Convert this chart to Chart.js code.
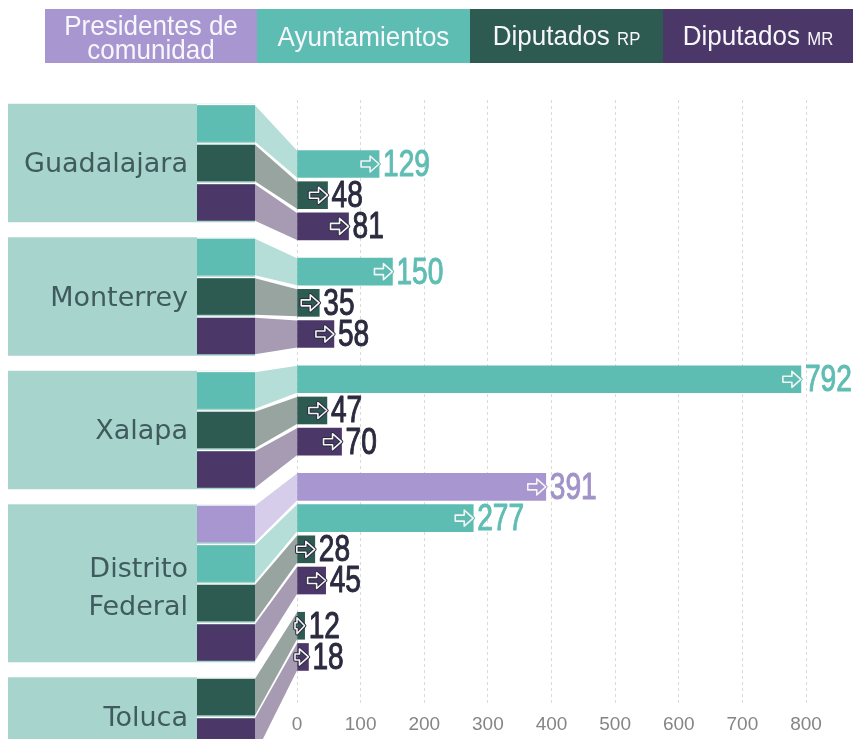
<!DOCTYPE html>
<html>
<head>
<meta charset="utf-8">
<script src="https://cdn.jsdelivr.net/npm/chart.js@4"></script>
<style>
  body { margin: 0; background: #ffffff; }
  #wrap { width: 867px; height: 739px; }
</style>
</head>
<body>
<div id="wrap"><canvas id="cargosChart" width="867" height="739"></canvas></div>
<script>
// data
var cities = ['Guadalajara', 'Monterrey', 'Xalapa', 'Distrito Federal', 'Toluca'];
var seriesNames = ['Presidentes de comunidad', 'Ayuntamientos', 'Diputados RP', 'Diputados MR'];
var presidentes = [null, null, null, 391, null];
var ayuntamientos = [129, 150, 792, 277, null];
var diputadosRP = [48, 35, 47, 28, 12];
var diputadosMR = [81, 58, 70, 45, 18];
var xMin = 0, xMax = 800, xStep = 100;

var seriesColors = ['#a796cf', '#5dbdb2', '#2d5b51', '#4b3869'];
var connectorColors = ['#d6cdea', '#b6ded8', '#98a49f', '#a69bb2'];
var labelColors = ['#a093c8', '#5fbdb3', '#2b2a3f', '#2b2a3f'];
var bandColor = '#a8d4ce';

// gap between city groups, in rows (bars side / blocks side)
var BAR_GAP = 0.45;
var BLOCK_GAP = 0.38;

var seriesValues = [presidentes, ayuntamientos, diputadosRP, diputadosMR];
var rows = [];
cities.forEach(function (city, g) {
    seriesValues.forEach(function (vals, s) {
        if (vals[g] !== null) {
            rows.push({ g: g, s: s, v: vals[g], i: rows.length });
        }
    });
});

var datasets = seriesNames.map(function (name, s) {
    return {
        label: name,
        data: rows.filter(function (r) { return r.s === s; }).map(function (r) {
            return { x: r.v, y: r.i + r.g * BAR_GAP };
        }),
        backgroundColor: seriesColors[s],
        borderWidth: 0,
        barThickness: 27,
        grouped: false
    };
});

var condFont = "'Liberation Sans', Arial, sans-serif";

function drawArrow(ctx, tip, cy, edgeColor, minX) {
    var start = Math.max(tip - 18, minX);
    var head = Math.max(tip - 9, start + 2);
    ctx.beginPath();
    ctx.moveTo(start, cy - 3);
    ctx.lineTo(head, cy - 3);
    ctx.lineTo(head, cy - 8);
    ctx.lineTo(tip, cy);
    ctx.lineTo(head, cy + 8);
    ctx.lineTo(head, cy + 3);
    ctx.lineTo(start, cy + 3);
    ctx.closePath();
    ctx.lineJoin = 'round';
    ctx.lineWidth = 3.5;
    ctx.strokeStyle = edgeColor;
    ctx.stroke();
    ctx.lineWidth = 1.6;
    ctx.strokeStyle = '#f4f4f4';
    ctx.stroke();
}

function condText(ctx, text, x, y, size, weight, sx, outline) {
    ctx.save();
    ctx.translate(x, y);
    ctx.scale(sx, 1);
    ctx.font = weight + ' ' + size + 'px ' + condFont;
    ctx.fillText(text, 0, 0);
    if (outline) {
        ctx.lineWidth = outline;
        ctx.strokeStyle = ctx.fillStyle;
        ctx.strokeText(text, 0, 0);
    }
    ctx.restore();
}

var panelPlugin = {
    id: 'panel',
    beforeDatasetsDraw: function (chart) {
        var ctx = chart.ctx;
        var yb = chart.scales.yb;
        var y = chart.scales.y;
        var x0 = chart.scales.x.getPixelForValue(0);
        var step = Math.abs(yb.getPixelForValue(1) - yb.getPixelForValue(0));
        var bandL = 8, blockL = 197, blockR = 255;
        var barHalf = 13.5;
        ctx.save();
        cities.forEach(function (city, g) {
            var gr = rows.filter(function (r) { return r.g === g; });
            var first = yb.getPixelForValue(gr[0].i + g * BLOCK_GAP);
            var last = yb.getPixelForValue(gr[gr.length - 1].i + g * BLOCK_GAP);
            var top = first - step / 2, bottom = last + step / 2;
            ctx.fillStyle = bandColor;
            ctx.fillRect(bandL, top, blockR - bandL, bottom - top);

            gr.forEach(function (r) {
                var bc = yb.getPixelForValue(r.i + g * BLOCK_GAP);
                var yc = y.getPixelForValue(r.i + g * BAR_GAP);
                var bt = bc - step / 2 + 1.5, bb = bc + step / 2 - 1.5;
                // white separators
                ctx.fillStyle = '#ffffff';
                ctx.fillRect(blockL, bc - step / 2, blockR - blockL, 1.5);
                ctx.fillStyle = seriesColors[r.s];
                ctx.fillRect(blockL, bt, blockR - blockL, bb - bt);
                // connector
                ctx.beginPath();
                ctx.moveTo(blockR, bt);
                ctx.lineTo(x0, yc - barHalf);
                ctx.lineTo(x0, yc + barHalf);
                ctx.lineTo(blockR, bb);
                ctx.closePath();
                ctx.fillStyle = connectorColors[r.s];
                ctx.fill();
            });

            var lines = city.split(' ');
            var mid = (top + bottom) / 2;
            var lh = 38;
            ctx.fillStyle = '#3f5b5d';
            ctx.font = '27px "DejaVu Sans", sans-serif';
            ctx.textAlign = 'right';
            ctx.textBaseline = 'middle';
            lines.forEach(function (ln, k) {
                var ly = mid + (k - (lines.length - 1) / 2) * lh + (lines.length > 1 ? 6 : 2);
                ctx.fillText(ln, 188, ly);
            });
        });
        ctx.restore();
    },
    afterDatasetsDraw: function (chart) {
        var ctx = chart.ctx;
        var x0 = chart.scales.x.getPixelForValue(0);
        ctx.save();
        chart.data.datasets.forEach(function (ds, s) {
            var meta = chart.getDatasetMeta(s);
            meta.data.forEach(function (bar, k) {
                var tip = bar.x;
                drawArrow(ctx, tip, bar.y, s >= 2 ? '#2b2a3f' : seriesColors[s], x0 - 2);
                ctx.fillStyle = labelColors[s];
                ctx.textAlign = 'left';
                ctx.textBaseline = 'middle';
                condText(ctx, String(ds.data[k].x), tip + 4, bar.y + 2, 36, 'normal', 0.78, 1);
            });
        });
        ctx.restore();
    },
    afterDraw: function (chart) {
        var ctx = chart.ctx;
        var edges = [45, 257, 470, 663, 853];
        var top = 9, h = 54;
        var big = 28, small = 18, sx = 0.93;
        ctx.save();
        seriesNames.forEach(function (name, s) {
            var l = edges[s], r = edges[s + 1];
            var cx = (l + r) / 2;
            ctx.fillStyle = seriesColors[s];
            ctx.fillRect(l, top, r - l, h);
            ctx.fillStyle = '#f7f7fb';
            ctx.textBaseline = 'alphabetic';
            ctx.textAlign = 'left';
            var words = name.split(' ');
            var tail = words[words.length - 1];
            ctx.font = big + 'px ' + condFont;
            if (words.length > 2) {
                // two line label
                var l1 = words.slice(0, -1).join(' ');
                var w1 = ctx.measureText(l1).width * sx;
                var w2 = ctx.measureText(tail).width * sx;
                condText(ctx, l1, cx - w1 / 2, 35, big, 'normal', sx);
                condText(ctx, tail, cx - w2 / 2, 59, big, 'normal', sx);
            } else if (words.length === 2 && tail === tail.toUpperCase()) {
                var wa = ctx.measureText(words[0] + ' ').width * sx;
                ctx.font = small + 'px ' + condFont;
                var wb = ctx.measureText(tail).width * sx;
                var x1 = cx - (wa + wb) / 2;
                condText(ctx, words[0], x1, 45, big, 'normal', sx);
                condText(ctx, tail, x1 + wa, 45, small, 'normal', sx);
            } else {
                var w = ctx.measureText(name).width * sx;
                condText(ctx, name, cx - w / 2, 46, big, 'normal', sx);
            }
        });
        ctx.restore();
    }
};

var barScale = 31.2, barFirst = 64;     // px per row, offset of first bar from top
var blockScale = 39.5, blockFirst = 23.5;
var plotH = 605;

new Chart(document.getElementById('cargosChart').getContext('2d'), {
    type: 'bar',
    data: { datasets: datasets },
    plugins: [panelPlugin],
    options: {
        responsive: false,
        animation: false,
        indexAxis: 'y',
        layout: { padding: { left: 297, right: 61, top: 100, bottom: 0 } },
        plugins: { legend: { display: false }, tooltip: { enabled: false } },
        scales: {
            x: {
                type: 'linear',
                position: 'bottom',
                min: xMin,
                max: xMax,
                z: 1,
                afterFit: function (scale) { scale.height = 34; },
                ticks: {
                    stepSize: xStep,
                    color: '#858585',
                    padding: 8,
                    font: { family: condFont, size: 19 }
                },
                grid: { color: 'rgba(205,205,205,0.75)', drawTicks: false, lineWidth: 1 },
                border: { display: false, dash: [3, 3] }
            },
            y: {
                type: 'linear',
                display: false,
                offset: false,
                reverse: true,
                min: -barFirst / barScale,
                max: (plotH - barFirst) / barScale
            },
            yb: {
                axis: 'y',
                type: 'linear',
                display: false,
                offset: false,
                reverse: true,
                min: -blockFirst / blockScale,
                max: (plotH - blockFirst) / blockScale
            }
        }
    }
});
</script>
</body>
</html>
